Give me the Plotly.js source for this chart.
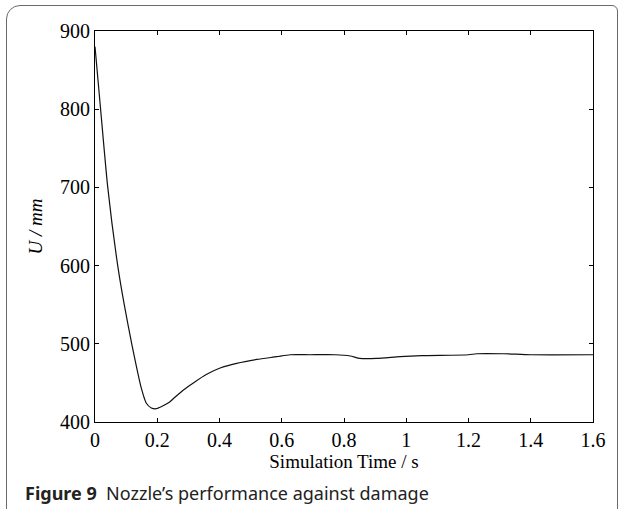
<!DOCTYPE html>
<html>
<head>
<meta charset="utf-8">
<script src="https://cdn.plot.ly/plotly-3.0.1.min.js"></script>
<style>
  html, body { margin: 0; padding: 0; background: #fff; }
  #wrap { position: relative; width: 625px; height: 509px; overflow: hidden; }
  #frame { position: absolute; left: 6px; top: 5px; width: 612px; height: 520px;
           border: 1.5px solid #6a6a6a; border-radius: 14px 6px 0 0; box-sizing: border-box; }
  #chart { position: absolute; left: 0; top: 0; width: 625px; height: 509px; }
</style>
</head>
<body>
<div id="wrap">
  <div id="frame"></div>
  <div id="chart"></div>
</div>
<script>
// Simulation time (s)
const time = [0, 0.018, 0.041, 0.073, 0.094, 0.118, 0.149, 0.165, 0.181, 0.197, 0.213, 0.225, 0.241, 0.252,
              0.284, 0.316, 0.359, 0.402, 0.455, 0.52, 0.584, 0.627, 0.69, 0.771, 0.82, 0.851, 0.905,
              0.98, 1.05, 1.2, 1.226, 1.312, 1.4, 1.6];
// Displacement U (mm)
const displacement = [880, 800, 700, 600, 550, 500, 443, 424, 418, 417, 419.5, 422, 426, 430,
                      441, 450, 461, 469, 475, 480, 483.5, 486, 486, 486, 484.4, 481.3, 481.3,
                      483.5, 484.8, 486, 487.3, 487.3, 486, 486];
const xTicks = [0, 0.2, 0.4, 0.6, 0.8, 1, 1.2, 1.4, 1.6];
const xTickText = ['0', '0.2', '0.4', '0.6', '0.8', '1', '1.2', '1.4', '1.6'];
const yTicks = [400, 500, 600, 700, 800, 900];

const serif = 'Liberation Serif, Times New Roman, serif';

const trace = {
  x: time, y: displacement, type: 'scatter', mode: 'lines',
  line: { color: '#111', width: 1.2, shape: 'spline', smoothing: 0.6 }, hoverinfo: 'skip'
};

const axisCommon = {
  showline: true, linecolor: '#000', linewidth: 1, mirror: 'ticks',
  ticks: 'inside', ticklen: 4, tickcolor: '#000', tickwidth: 1,
  showgrid: false, zeroline: false,
  tickfont: { family: serif, size: 20, color: '#000' }
};

const layout = {
  width: 625, height: 509,
  margin: { l: 95, r: 32, t: 31, b: 87 },
  paper_bgcolor: 'rgba(0,0,0,0)', plot_bgcolor: 'rgba(0,0,0,0)',
  showlegend: false,
  xaxis: Object.assign({}, axisCommon, {
    range: [0, 1.6], tickmode: 'array', tickvals: xTicks, ticktext: xTickText,
    title: { text: 'Simulation Time / s', font: { family: serif, size: 19, color: '#000' }, standoff: 0 }
  }),
  yaxis: Object.assign({}, axisCommon, {
    range: [400, 900], tickmode: 'array', tickvals: yTicks,
    title: { text: '<i>U / mm</i>', font: { family: serif, size: 19, color: '#000' }, standoff: 12 }
  }),
  annotations: [{
    xref: 'paper', yref: 'paper', x: -0.145, y: -0.1816, xanchor: 'left', yanchor: 'middle',
    showarrow: false, align: 'left',
    text: '<b>Figure 9</b>  Nozzle’s performance against damage',
    font: { family: 'Noto Sans, Open Sans, sans-serif', size: 18, color: '#222' }
  }]
};

Plotly.newPlot('chart', [trace], layout, { staticPlot: true, displayModeBar: false });
</script>
</body>
</html>
